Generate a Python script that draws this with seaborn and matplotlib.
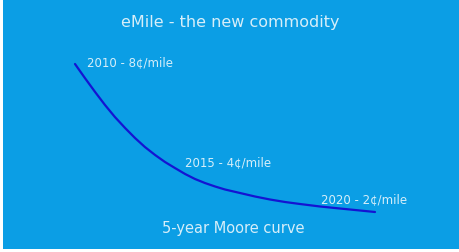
import matplotlib
matplotlib.use("Agg")
import matplotlib.pyplot as plt
import seaborn as sns
import pandas as pd

years = [2010.0, 2010.33, 2010.67, 2011.0, 2011.33, 2011.67, 2012.0, 2012.33,
         2012.67, 2013.0, 2013.33, 2013.67, 2014.0, 2014.33, 2014.67, 2015.0,
         2015.5, 2016.0, 2016.5, 2017.0, 2017.5, 2018.17, 2018.83, 2019.5, 2020.0]
cost = [8.0, 7.44, 6.88, 6.36, 5.88, 5.44, 5.04, 4.68,
        4.36, 4.08, 3.84, 3.6, 3.4, 3.24, 3.1, 2.98,
        2.84, 2.7, 2.58, 2.48, 2.4, 2.3, 2.22, 2.14, 2.08]
labels = ["2010 - 8¢/mile", "2015 - 4¢/mile", "2020 - 2¢/mile"]
title = "eMile - the new commodity"
footer = "5-year Moore curve"

df = pd.DataFrame({"year": years, "cost": cost})

sns.set_style("white")
plt.rcParams["font.family"] = ["DejaVu Sans"]

BG = "#0B9EE5"
TXT = "#D6EEF9"

fig = plt.figure(figsize=(4.59, 2.53), dpi=100, facecolor="white")
ax = fig.add_axes([3 / 459, 3 / 253, 456 / 459, 250 / 253])
ax.set_facecolor(BG)

sns.lineplot(data=df, x="year", y="cost", ax=ax, color="#1414D2", linewidth=1.6)
ax.lines[0].set_solid_joinstyle("round")

ax.set_xlim(2007.6, 2022.8)
ax.set_ylim(0.6, 10.6)
for s in ax.spines.values():
    s.set_visible(False)
ax.set_xticks([])
ax.set_yticks([])
ax.set_xlabel("")
ax.set_ylabel("")

ax.text(0.498, 0.908, title, transform=ax.transAxes, ha="center", va="center",
        color=TXT, fontsize=11.5)
ax.text(0.184, 0.748, labels[0], transform=ax.transAxes, ha="left", va="center",
        color=TXT, fontsize=8.5)
ax.text(0.399, 0.348, labels[1], transform=ax.transAxes, ha="left", va="center",
        color=TXT, fontsize=8.5)
ax.text(0.697, 0.200, labels[2], transform=ax.transAxes, ha="left", va="center",
        color=TXT, fontsize=8.5)
ax.text(0.504, 0.084, footer, transform=ax.transAxes, ha="center", va="center",
        color=TXT, fontsize=10.5)

fig.savefig("out.png", dpi=100, facecolor="white")
